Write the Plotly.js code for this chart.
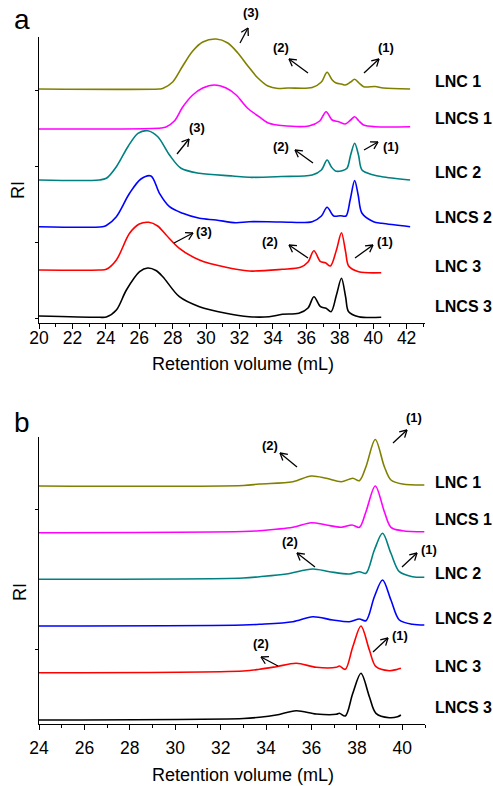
<!DOCTYPE html>
<html>
<head>
<meta charset="utf-8">
<script src="https://cdn.plot.ly/plotly-3.0.1.min.js"></script>
<style>html,body{margin:0;padding:0;background:#fff;}#chart{width:493px;height:786px;}</style>
</head>
<body>
<div id="chart"></div>
<script>
// ---------- DATA ----------
const seriesNames = ['LNC 1', 'LNCS 1', 'LNC 2', 'LNCS 2', 'LNC 3', 'LNCS 3'];
const peakLabels = ['(1)', '(2)', '(3)'];
const xTicksA = [20, 22, 24, 26, 28, 30, 32, 34, 36, 38, 40, 42];
const xTicksB = [24, 26, 28, 30, 32, 34, 36, 38, 40];

// Panel a: retention volume (mL) and stacked RI signal
const xA_LNC1  = [20, 27.2, 27.4, 28.0, 28.6, 29.2, 29.8, 30.6, 31.3, 31.9, 32.5, 33.1, 33.7, 34.3, 34.9, 36.35, 36.9, 37.24, 37.55, 37.78, 38.1, 38.33, 38.65, 38.89, 39.15, 39.43, 40.12, 40.6, 42.21];
const yA_LNC1  = [234, 234, 234.5, 241, 257, 272, 281, 284, 280, 270, 257, 245, 237, 234.5, 235, 235.5, 241, 250.7, 243, 240, 239, 238, 241, 243.7, 240, 236.3, 236.5, 235, 234];
const xA_LNCS1 = [20, 27.3, 27.6, 28.1, 28.6, 29.2, 29.8, 30.5, 31.2, 31.8, 32.47, 33.17, 33.77, 34.5, 36.15, 36.8, 37.18, 37.54, 37.94, 38.33, 38.65, 38.89, 39.15, 39.43, 40.12, 42.21];
const yA_LNCS1 = [194, 195, 196, 202, 216, 228, 235, 238, 235, 228, 215, 206.3, 199.7, 197.5, 197, 202, 211.3, 203, 201.3, 199, 203, 206.3, 202, 198, 196.3, 196.3];
const xA_LNC2  = [20, 23.6, 24.03, 24.63, 25.32, 25.92, 26.51, 27.11, 27.81, 28.5, 29.6, 31.58, 32.57, 34.5, 36.35, 36.9, 37.24, 37.5, 37.74, 38.14, 38.43, 38.65, 38.89, 39.12, 39.33, 40.02, 40.52, 42.21];
const yA_LNC2  = [143, 143, 144.7, 156.3, 176.3, 189.7, 192.3, 186.3, 168, 154.7, 149.7, 147, 145.7, 146.5, 148, 153, 163, 156, 152, 152.3, 154.7, 168, 179.7, 168, 153, 148, 146.3, 143];
const xA_LNCS2 = [20, 23.8, 24.03, 24.63, 25.42, 26.1, 26.7, 27.21, 27.81, 28.6, 29.6, 30.59, 31.78, 32.57, 34.5, 36.35, 36.9, 37.24, 37.64, 38.04, 38.37, 38.62, 38.89, 39.1, 39.33, 40.02, 40.52, 42.21];
const yA_LNCS2 = [96.3, 96.3, 97.5, 106.3, 129.7, 144, 147, 129.7, 116.3, 109.7, 104.7, 103, 100.3, 101.3, 101, 101.3, 107, 115.7, 107, 107.3, 107, 123, 142.5, 128, 109.7, 101.3, 99.7, 96.3];
const xA_LNC3  = [20, 23.6, 24.03, 24.63, 25.42, 26.0, 26.57, 27.1, 27.61, 28.4, 29.6, 31.19, 32.57, 34.56, 35.65, 36.1, 36.45, 36.85, 37.14, 37.44, 37.8, 38.1, 38.35, 38.53, 39.13, 40.48];
const yA_LNC3  = [53, 53, 53.7, 63, 89.7, 99, 100.7, 97, 88, 74.7, 63, 55.7, 52, 53.7, 55.7, 61, 72.3, 61.3, 60.3, 57, 73, 90.3, 71, 57, 51.3, 50.3];
const xA_LNCS3 = [20, 23.6, 24.03, 24.63, 25.23, 26.02, 26.51, 27.0, 27.41, 28.4, 29.6, 31.19, 32.57, 33.77, 34.56, 35.55, 36.1, 36.45, 36.85, 37.18, 37.48, 37.8, 38.1, 38.35, 38.53, 39.13, 40.48];
const yA_LNCS3 = [7, 5.7, 6, 13, 33, 51.3, 55, 52.5, 46.3, 26.3, 16.3, 9.7, 6.3, 6.3, 8.7, 9.7, 15, 26.3, 16.3, 14.7, 11.3, 28, 44.7, 26, 11.3, 6.3, 5.7];

// Panel b
const xB_LNC1  = [24, 33.0, 33.71, 35.18, 35.99, 36.65, 37.31, 37.82, 38.11, 38.4, 38.81, 39.21, 39.5, 40.01, 40.97];
const yB_LNC1  = [238, 238.5, 240, 242.3, 248, 245.7, 242.3, 245.7, 243.3, 257.3, 284.5, 257.3, 244, 240, 239];
const xB_LNCS1 = [24, 33.0, 33.71, 35.18, 35.99, 36.65, 37.31, 37.79, 38.11, 38.4, 38.81, 39.21, 39.5, 40.01, 40.97];
const yB_LNCS1 = [191.3, 192.5, 193.3, 196.7, 201.3, 199, 196.7, 199, 196.7, 212.3, 238, 212.3, 196.7, 193.3, 192.3];
const xB_LNC2  = [24, 33.0, 33.71, 34.89, 36.06, 36.79, 37.67, 38.11, 38.4, 38.77, 39.13, 39.5, 39.87, 40.45, 40.97];
const yB_LNC2  = [144.7, 146, 147.3, 150, 155, 152.3, 150, 152.3, 150.7, 174, 190.7, 170.7, 152.3, 147.3, 146.7];
const xB_LNCS2 = [24, 33.0, 33.71, 35.18, 36.06, 36.94, 37.67, 38.11, 38.4, 38.77, 39.13, 39.5, 39.87, 40.45, 40.97];
const yB_LNCS2 = [98, 99, 99.7, 102.3, 107.3, 104, 102.3, 105, 103.3, 127.3, 144, 124, 104, 99.7, 99];
const xB_LNC3  = [24, 33.0, 33.71, 34.45, 35.33, 36.21, 37.09, 37.23, 37.49, 37.82, 38.18, 38.55, 38.84, 39.43, 39.79, 39.94];
const yB_LNC3  = [51.3, 53, 54.7, 57.3, 60.7, 56.7, 56.7, 58, 54.7, 77.3, 98, 74, 57.3, 53.3, 54.7, 55.7];
const xB_LNCS3 = [24, 33.0, 33.71, 34.45, 35.33, 36.21, 37.09, 37.23, 37.49, 37.82, 38.18, 38.55, 38.84, 39.43, 39.79, 39.94];
const yB_LNCS3 = [4, 5.5, 6.7, 9, 13.3, 10, 9.7, 10.7, 8, 30.7, 50.7, 27.3, 10.7, 6.3, 7.3, 9];

// ---------- BUILD ----------
const W = 493, H = 786;
const FONT = 'Arial, "Liberation Sans", sans-serif';
const colors = ['#808000', '#ff00ff', '#008080', '#0000ff', '#ff0000', '#000000'];
const px = v => v / W;
const py = v => 1 - v / H;

const panelA = [[xA_LNC1, yA_LNC1], [xA_LNCS1, yA_LNCS1], [xA_LNC2, yA_LNC2], [xA_LNCS2, yA_LNCS2], [xA_LNC3, yA_LNC3], [xA_LNCS3, yA_LNCS3]];
const panelB = [[xB_LNC1, yB_LNC1], [xB_LNCS1, yB_LNCS1], [xB_LNC2, yB_LNC2], [xB_LNCS2, yB_LNCS2], [xB_LNC3, yB_LNC3], [xB_LNCS3, yB_LNCS3]];

const traces = [];
panelA.forEach((d, i) => traces.push({
  x: d[0], y: d[1], xaxis: 'x', yaxis: 'y', type: 'scatter', mode: 'lines', name: seriesNames[i],
  line: {color: colors[i], width: 1.6, shape: 'spline', smoothing: 0.9}, showlegend: false, hoverinfo: 'skip'
}));
panelB.forEach((d, i) => traces.push({
  x: d[0], y: d[1], xaxis: 'x2', yaxis: 'y2', type: 'scatter', mode: 'lines', name: seriesNames[i],
  line: {color: colors[i], width: 1.6, shape: 'spline', smoothing: 0.9}, showlegend: false, hoverinfo: 'skip'
}));

const xBase = {
  showline: true, linecolor: '#000', linewidth: 1, showgrid: false, zeroline: false,
  ticks: 'outside', ticklen: 5, tickwidth: 1, tickcolor: '#000',
  minor: {dtick: 1, ticks: 'outside', ticklen: 3, tickwidth: 1, tickcolor: '#000', showgrid: false},
  tickfont: {family: FONT, size: 17.5, color: '#000'}, automargin: false, fixedrange: true
};
const yBase = {
  showline: true, linecolor: '#000', linewidth: 1, showgrid: false, zeroline: false,
  ticks: 'outside', ticklen: 3, tickwidth: 1, tickcolor: '#000', showticklabels: false,
  automargin: false, fixedrange: true
};

const layout = {
  width: W, height: H, autosize: false,
  margin: {l: 0, r: 0, t: 0, b: 0, pad: 0},
  paper_bgcolor: '#fff', plot_bgcolor: 'rgba(0,0,0,0)',
  font: {family: FONT, color: '#000'},
  xaxis: Object.assign({}, xBase, {domain: [px(39), px(425)], range: [20, 43.1], anchor: 'y', tickvals: xTicksA, ticktext: xTicksA.map(String), ticklabelstandoff: -6}),
  yaxis: Object.assign({}, yBase, {domain: [py(323), py(37)], range: [0, 286], anchor: 'x', tick0: 5, dtick: 76}),
  xaxis2: Object.assign({}, xBase, {domain: [px(39), px(425)], range: [24, 41], anchor: 'y2', tickvals: xTicksB, ticktext: xTicksB.map(String), ticklabelstandoff: 3}),
  yaxis2: Object.assign({}, yBase, {domain: [py(724), py(437)], range: [0, 287], anchor: 'x2', tick0: 74.7, dtick: 140}),
  annotations: [],
  shapes: []
};

const ann = (text, x, y, opts) => layout.annotations.push(Object.assign({
  text: text, xref: 'paper', yref: 'paper', x: px(x), y: py(y), xanchor: 'center', yanchor: 'middle',
  showarrow: false, font: {family: FONT, size: 13, color: '#000'}
}, opts || {}));

// panel letters
ann('a', 22, 19, {font: {family: FONT, size: 28, color: '#000'}});
ann('b', 22, 423, {font: {family: FONT, size: 28, color: '#000'}});
// axis titles
ann('RI', 18, 190, {textangle: -90, font: {family: FONT, size: 18, color: '#000'}});
ann('RI', 20, 592, {textangle: -90, font: {family: FONT, size: 18, color: '#000'}});
ann('Retention volume (mL)', 243, 364, {font: {family: FONT, size: 18, color: '#000'}});
ann('Retention volume (mL)', 243, 775, {font: {family: FONT, size: 18, color: '#000'}});

// series labels
const labYA = [81, 118, 172, 217, 266, 306];
const labYB = [482, 519, 573, 618, 666, 707];
seriesNames.forEach((s, i) => {
  ann('<b>' + s + '</b>', 433, labYA[i], {xanchor: 'left', font: {family: FONT, size: 16, color: '#000'}});
  ann('<b>' + s + '</b>', 433, labYB[i], {xanchor: 'left', font: {family: FONT, size: 16, color: '#000'}});
});

// peak markers: label text + arrow (tail -> head), in pixels
function arrow(x0, y0, x1, y1) {
  const L = 8, a = 30 * Math.PI / 180;
  const ang = Math.atan2(y0 - y1, x0 - x1);
  const seg = (ax, ay, bx, by) => layout.shapes.push({type: 'line', xref: 'paper', yref: 'paper',
    x0: px(ax), y0: py(ay), x1: px(bx), y1: py(by), line: {color: '#000', width: 1.3}});
  seg(x0, y0, x1, y1);
  seg(x1, y1, x1 + L * Math.cos(ang + a), y1 + L * Math.sin(ang + a));
  seg(x1, y1, x1 + L * Math.cos(ang - a), y1 + L * Math.sin(ang - a));
}
const marks = [
  // [labelIndex, lx, ly, tailx, taily, headx, heady]
  [2, 251, 12, 240, 43, 248, 28],
  [1, 281, 47, 308, 73, 289, 59],
  [0, 386, 47, 364, 73, 379, 59],
  [2, 197, 127, 177, 154, 189, 139],
  [1, 281, 146, 313, 163, 295, 150],
  [0, 391, 146, 364, 150, 378, 142],
  [2, 204, 232, 174, 243, 193, 233],
  [1, 270, 241, 308, 258, 289, 245],
  [0, 385, 241, 355, 258, 373, 245],
  [0, 414, 417, 393, 443, 407, 430],
  [1, 270, 445, 297, 467, 280, 453],
  [1, 290, 541, 315, 567, 297, 553],
  [0, 429, 549, 402, 567, 417, 553],
  [1, 261, 643, 278, 666, 261, 657],
  [0, 400, 635, 373, 652, 388, 638]
];
marks.forEach(m => {
  ann('<b>' + peakLabels[m[0]] + '</b>', m[1], m[2]);
  arrow(m[3], m[4], m[5], m[6]);
});

Plotly.newPlot('chart', traces, layout, {staticPlot: true, displayModeBar: false});
</script>
</body>
</html>
